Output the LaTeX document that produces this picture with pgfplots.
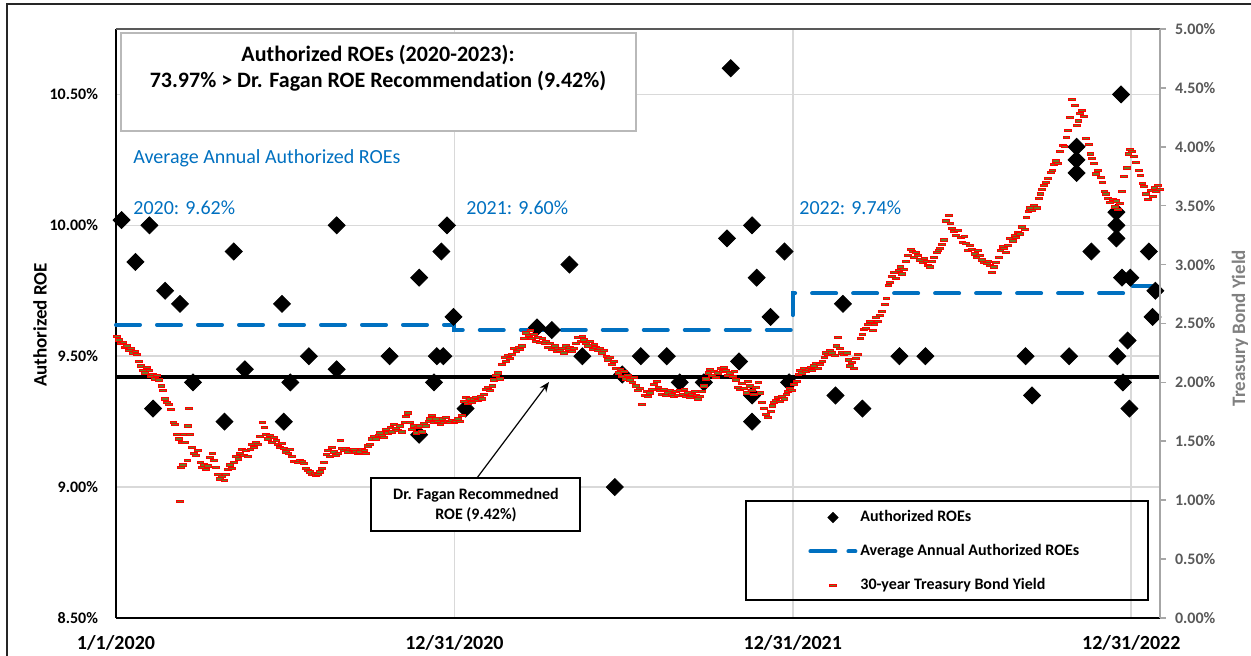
\documentclass[border=0pt]{standalone}
\usepackage{fontspec}
\setmainfont{Carlito}[Ligatures=NoCommon]
\usepackage{pgfplots}
\pgfplotsset{compat=1.18}
\usepackage{pgfplotstable}
\usetikzlibrary{arrows.meta}
\definecolor{roeblue}{RGB}{0,112,192}
\definecolor{gridgray}{RGB}{217,217,217}
\definecolor{axgray}{RGB}{166,166,166}
\definecolor{txtgray}{RGB}{89,89,89}
\definecolor{lblgray}{RGB}{128,128,128}
\definecolor{bondfill}{RGB}{110,120,40}

\pgfplotsset{
  markleg/.style={legend image code/.code={\draw[mark repeat=2, mark phase=2, ##1] plot coordinates {(0pt,0pt) (12.25pt,0pt) (24.5pt,0pt)};}},
  lineleg/.style={legend image code/.code={\draw[##1] (1pt,0pt) -- (23.5pt,0pt);}},
}

% day = days since 1/1/2020
\pgfplotstableread{
day roe
6 10.02
21 9.86
36 10.00
40 9.30
53 9.75
69 9.70
83 9.40
117 9.25
127 9.90
139 9.45
179 9.70
181 9.25
188 9.40
208 9.50
238 10.00
238 9.45
295 9.50
327 9.80
327 9.20
343 9.40
346 9.50
351 9.90
353 9.50
357 10.00
364 9.65
377 9.30
454 9.61
470 9.60
489 9.85
503 9.50
538 9.00
546 9.43
566 9.50
594 9.50
608 9.40
634 9.40
659 9.95
663 10.60
672 9.48
686 10.00
686 9.35
686 9.25
691 9.80
706 9.65
721 9.90
726 9.40
776 9.35
784 9.70
805 9.30
845 9.50
873 9.50
981 9.50
988 9.35
1028 9.50
1036 10.30
1036 10.25
1036 10.20
1052 9.90
1079 10.05
1079 10.00
1079 9.95
1080 9.50
1084 10.50
1085 9.80
1086 9.40
1091 9.56
1093 9.30
1094 9.80
1114 9.90
1118 9.65
1121 9.75
}\roedata

\pgfplotstableread{
day yld
1 2.39
3 2.36
5 2.33
8 2.34
10 2.30
12 2.31
14 2.27
16 2.29
18 2.25
21 2.26
23 2.24
25 2.18
27 2.14
29 2.10
31 2.08
33 2.13
36 2.10
38 2.05
40 2.07
42 2.03
44 2.06
46 2.02
49 1.97
51 1.93
53 1.86
55 1.83
57 1.81
59 1.77
62 1.66
64 1.64
66 1.56
68 1.52
69 0.99
70 1.28
71 1.49
72 1.30
73 1.56
74 1.49
77 1.34
78 1.63
79 1.78
80 1.56
82 1.45
84 1.40
86 1.38
88 1.42
91 1.32
93 1.28
95 1.30
97 1.26
99 1.29
101 1.36
104 1.40
106 1.34
108 1.28
110 1.22
112 1.18
114 1.20
117 1.17
119 1.22
121 1.26
123 1.30
125 1.27
127 1.32
129 1.37
132 1.35
134 1.40
136 1.43
138 1.38
140 1.42
142 1.37
145 1.43
147 1.47
149 1.45
151 1.49
153 1.47
155 1.54
158 1.66
160 1.62
162 1.56
164 1.52
166 1.55
168 1.49
170 1.53
173 1.51
175 1.47
177 1.45
179 1.48
181 1.44
183 1.41
186 1.40
188 1.43
190 1.37
192 1.33
194 1.33
196 1.32
198 1.34
201 1.33
203 1.31
205 1.27
207 1.25
209 1.24
211 1.22
214 1.23
216 1.21
218 1.22
220 1.24
222 1.27
224 1.32
227 1.39
229 1.42
231 1.37
233 1.45
235 1.41
237 1.38
240 1.40
242 1.51
244 1.44
246 1.42
248 1.44
250 1.41
252 1.43
255 1.42
257 1.43
259 1.41
261 1.40
263 1.41
265 1.43
268 1.42
270 1.40
272 1.46
274 1.47
276 1.52
278 1.54
280 1.52
283 1.55
285 1.57
287 1.55
289 1.53
291 1.60
293 1.57
296 1.62
298 1.58
300 1.64
302 1.61
304 1.59
306 1.63
308 1.58
311 1.66
313 1.71
315 1.74
317 1.66
319 1.60
321 1.63
324 1.57
326 1.62
328 1.63
330 1.58
332 1.65
334 1.63
337 1.67
339 1.69
341 1.72
343 1.66
345 1.69
347 1.67
350 1.64
352 1.69
354 1.66
356 1.70
358 1.67
360 1.66
362 1.68
365 1.66
367 1.67
369 1.69
371 1.67
373 1.72
375 1.84
377 1.87
380 1.82
382 1.86
384 1.83
386 1.86
388 1.87
390 1.85
393 1.88
395 1.86
397 1.90
399 1.94
401 1.96
403 1.93
406 1.97
408 2.02
410 2.06
412 2.08
414 2.03
416 2.15
419 2.21
421 2.18
423 2.23
425 2.20
427 2.24
429 2.29
432 2.26
434 2.30
436 2.28
438 2.31
440 2.37
442 2.42
445 2.40
447 2.44
449 2.37
451 2.41
453 2.35
455 2.38
457 2.34
460 2.37
462 2.33
464 2.35
466 2.30
468 2.33
470 2.28
473 2.31
475 2.26
477 2.29
479 2.27
481 2.29
483 2.25
485 2.31
488 2.28
490 2.30
492 2.26
494 2.29
496 2.33
498 2.38
501 2.35
503 2.39
505 2.36
507 2.33
509 2.31
511 2.35
514 2.28
516 2.32
518 2.30
520 2.27
522 2.29
524 2.25
526 2.27
529 2.22
531 2.19
533 2.21
535 2.15
537 2.18
539 2.12
542 2.08
544 2.11
546 2.05
548 2.09
550 2.03
552 2.06
554 2.02
557 2.00
559 2.04
561 1.97
563 1.93
565 1.95
567 1.81
570 1.89
572 1.92
574 1.88
576 1.91
578 1.94
580 1.98
583 2.01
585 1.96
587 1.93
589 1.90
591 1.94
593 1.89
595 1.91
598 1.93
600 1.90
602 1.88
604 1.92
606 1.89
608 1.93
611 1.90
613 1.94
615 1.88
617 1.91
619 1.87
621 1.90
624 1.92
626 1.89
628 1.86
630 1.88
632 1.92
634 1.97
636 2.03
639 2.08
641 2.11
643 2.06
645 2.09
647 2.04
649 2.08
652 2.12
654 2.09
656 2.13
658 2.10
660 2.06
662 2.08
665 2.05
667 2.09
669 2.02
671 1.96
673 1.94
675 1.99
677 1.95
680 1.91
682 2.01
684 1.97
686 1.93
688 1.90
690 1.96
693 2.00
695 1.91
697 1.83
699 1.78
701 1.73
703 1.70
706 1.75
708 1.80
710 1.83
712 1.85
714 1.87
716 1.84
718 1.88
721 1.86
723 1.90
725 1.92
727 1.95
729 1.93
731 1.98
734 2.01
736 2.07
738 2.10
740 2.08
742 2.12
744 2.09
747 2.11
749 2.13
751 2.10
753 2.14
755 2.16
757 2.12
759 2.15
762 2.18
764 2.21
766 2.25
768 2.24
770 2.27
772 2.25
775 2.23
777 2.31
779 2.38
781 2.29
783 2.25
785 2.24
788 2.25
790 2.19
792 2.14
794 2.17
796 2.12
798 2.20
800 2.24
803 2.37
805 2.41
807 2.45
809 2.46
811 2.49
813 2.52
816 2.44
818 2.49
820 2.55
822 2.52
824 2.57
826 2.60
829 2.66
831 2.71
833 2.82
835 2.85
837 2.90
839 2.93
841 2.88
844 2.95
846 2.98
848 2.92
850 2.96
852 3.03
854 3.08
857 3.13
859 3.11
861 3.06
863 3.10
865 3.08
867 3.04
870 3.02
872 3.05
874 3.03
876 2.99
878 2.98
880 3.03
882 3.06
885 3.10
887 3.12
889 3.14
891 3.17
893 3.21
895 3.37
898 3.42
900 3.35
902 3.31
904 3.28
906 3.25
908 3.29
911 3.23
913 3.19
915 3.24
917 3.18
919 3.12
921 3.16
923 3.13
926 3.09
928 3.06
930 3.12
932 3.08
934 3.04
936 3.02
939 3.01
941 3.03
943 2.99
945 2.93
947 2.98
949 3.02
952 3.06
954 3.12
956 3.15
958 3.14
960 3.10
962 3.16
964 3.22
967 3.20
969 3.25
971 3.23
973 3.27
975 3.26
977 3.32
980 3.30
982 3.40
984 3.45
986 3.48
988 3.46
990 3.50
993 3.48
995 3.56
997 3.60
999 3.64
1001 3.67
1003 3.70
1005 3.73
1008 3.78
1010 3.80
1012 3.85
1014 3.88
1016 3.86
1018 3.96
1021 4.01
1023 4.00
1025 4.08
1027 4.14
1029 4.25
1031 4.40
1034 4.35
1036 4.18
1038 4.22
1040 4.28
1042 4.31
1044 4.26
1046 4.07
1049 4.02
1051 3.94
1053 3.90
1055 3.86
1057 3.77
1059 3.80
1062 3.74
1064 3.70
1066 3.62
1068 3.60
1070 3.56
1072 3.53
1075 3.55
1077 3.49
1079 3.54
1081 3.47
1083 3.52
1085 3.62
1087 3.75
1090 3.82
1092 3.94
1094 3.98
1096 3.96
1098 3.92
1100 3.87
1103 3.80
1105 3.76
1107 3.69
1109 3.66
1111 3.60
1113 3.55
1116 3.63
1118 3.58
1120 3.65
1122 3.62
1124 3.67
1126 3.64
}\bonddata

\begin{document}
\begin{tikzpicture}
% outer chart border
\draw[black!85, line width=0.75pt] (-54.5pt,307pt) rectangle (600pt,-40pt);

\begin{axis}[
  at={(0pt,0pt)}, anchor=south west,
  scale only axis, width=522pt, height=294.5pt,
  xmin=0, xmax=1126, ymin=8.5, ymax=10.75,
  axis x line*=bottom, axis y line*=left,
  axis line style={black, line width=0.9pt},
  xtick={0,365,730,1095},
  xticklabels={1/1/2020,12/31/2020,12/31/2021,12/31/2022},
  ytick={8.5,9,9.5,10,10.5},
  yticklabels={8.50\%,9.00\%,9.50\%,10.00\%,10.50\%},
  major tick length=0pt,
  xmajorgrids, ymajorgrids,
  grid style={gridgray, line width=0.8pt},
  yticklabel style={font=\bfseries\fontsize{8}{9}\selectfont, black, xshift=-5.5pt},
  xticklabel style={font=\bfseries\fontsize{10}{11}\selectfont, black, yshift=-5pt},
  clip=false,
  /pgf/number format/assume math mode=true,
]
\addplot[black, line width=1.8pt] coordinates {(0,9.42) (1126,9.42)};
\addplot[const plot, roeblue, line width=2pt, line cap=round, dash pattern=on 12pt off 8.5pt]
  coordinates {(0,9.62) (365,9.60) (730,9.74) (1095,9.77) (1126,9.77)};
\addplot[only marks, mark=square*, mark size=3pt, mark options={rotate=45, draw=black, fill=black}]
  table[x=day, y=roe] {\roedata};
\draw[txtgray, line width=0.9pt] (rel axis cs:0,1) -- (rel axis cs:1,1);
\end{axis}

\begin{axis}[
  at={(0pt,0pt)}, anchor=south west,
  scale only axis, width=522pt, height=294.5pt,
  xmin=0, xmax=1126, ymin=0, ymax=5,
  axis x line=none, axis y line*=right,
  axis line style={axgray, line width=0.9pt},
  ytick={0,0.5,1,1.5,2,2.5,3,3.5,4,4.5,5},
  yticklabels={0.00\%,0.50\%,1.00\%,1.50\%,2.00\%,2.50\%,3.00\%,3.50\%,4.00\%,4.50\%,5.00\%},
  tick align=outside, major tick length=3pt,
  ytick style={axgray, line width=0.8pt},
  yticklabel style={font=\bfseries\fontsize{8}{9}\selectfont, txtgray, xshift=1pt},
  clip=false,
  /pgf/number format/assume math mode=true,
  legend cell align=left,
  legend style={at={(0.66284,0.18336)}, anchor=north west, draw=none, fill=none,
    inner sep=0pt, row sep=9.8pt, font=\bfseries\fontsize{8}{9}\selectfont,
    nodes={inner sep=0pt},
    /tikz/every odd column/.style={column sep=1.5pt}},
]
\addlegendimage{only marks, mark=square*, mark size=1.8pt, mark options={rotate=45, draw=black, fill=black}, markleg}
\addlegendentry{Authorized ROEs}
\addlegendimage{roeblue, line width=2pt, line cap=round, dash pattern=on 12.5pt off 6.5pt, lineleg}
\addlegendentry{Average Annual Authorized ROEs}
\addplot[only marks, mark=square*, mark size=1pt,
  mark options={xscale=1.7, yscale=0.55, draw=red, fill=bondfill, line width=0.45pt}, markleg]
  table[x=day, y=yld] {\bonddata};
\addlegendentry{30-year Treasury Bond Yield}
\end{axis}

% legend frame
\draw[black, line width=0.8pt] (315pt,58.5pt) rectangle (516pt,9pt);

% title box
\draw[gray!55, line width=0.7pt, fill=white] (2.5pt,292.5pt) rectangle (260pt,243.5pt);
\node[font=\bfseries\fontsize{11}{13}\selectfont, align=center, inner sep=0pt] at (131pt,275pt)
  {Authorized ROEs (2020-2023):\\73.97\% > Dr. Fagan ROE Recommendation (9.42\%)};

% blue annotations
\begin{scope}[every node/.style={font=\fontsize{10}{12}\selectfont, text=roeblue, inner sep=0pt, anchor=west}]
\node at (8.5pt,230pt) {Average Annual Authorized ROEs};
\node at (8.5pt,205pt) {2020: 9.62\%};
\node at (175pt,205pt) {2021: 9.60\%};
\node at (341.5pt,205pt) {2022: 9.74\%};
\end{scope}

% recommended ROE callout
\draw[-{Stealth[length=5pt,width=4pt]}, line width=0.6pt] (180.5pt,70pt) -- (216.5pt,118pt);
\draw[black, line width=0.7pt, fill=white] (127.5pt,70pt) rectangle (232pt,43.5pt);
\node[font=\bfseries\fontsize{8}{10}\selectfont, align=center, inner sep=0pt] at (180pt,56.5pt)
  {Dr. Fagan Recommedned\\ROE (9.42\%)};

% axis titles
\node[rotate=90, font=\bfseries\fontsize{9.5}{11}\selectfont] at (-38pt,146.5pt) {Authorized ROE};
\node[rotate=90, font=\bfseries\fontsize{9.5}{11}\selectfont, text=lblgray] at (562pt,145pt) {Treasury Bond Yield};

\pgfresetboundingbox
\path[use as bounding box] (-58pt,-19pt) rectangle (567.5pt,309pt);
\end{tikzpicture}
\end{document}
